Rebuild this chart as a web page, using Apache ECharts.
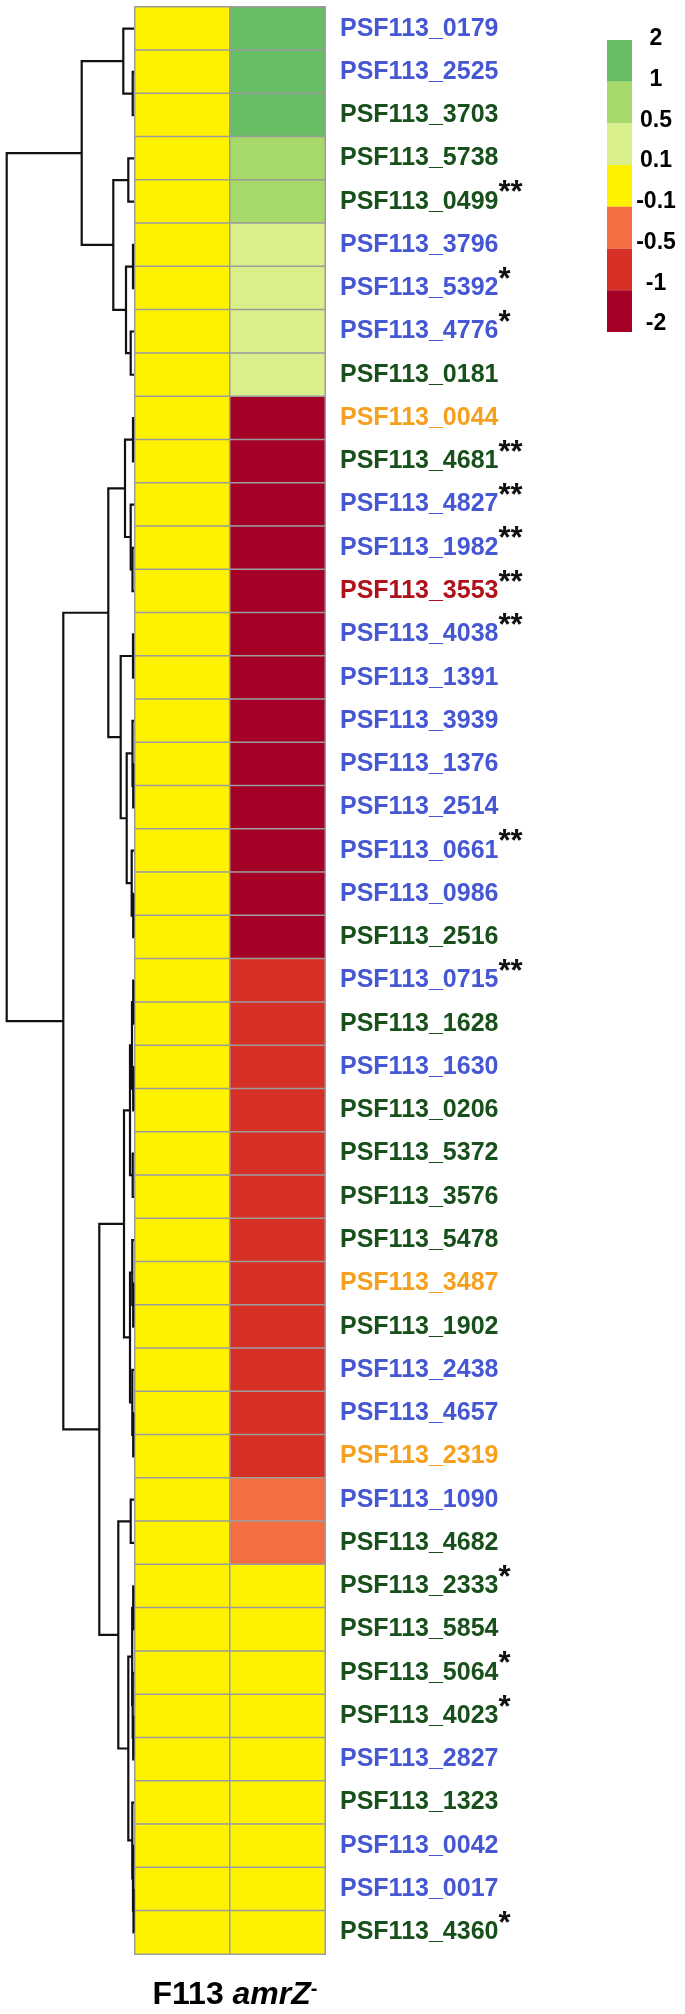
<!DOCTYPE html>
<html><head><meta charset="utf-8">
<script src="https://cdn.jsdelivr.net/npm/echarts@6/dist/echarts.min.js"></script>
<style>html,body{margin:0;padding:0;background:#fff}#c{width:685px;height:2014px}</style>
</head><body><div id="c"></div>
<script>
// ---------- data ----------
const genes = ['PSF113_0179','PSF113_2525','PSF113_3703','PSF113_5738','PSF113_0499','PSF113_3796','PSF113_5392','PSF113_4776','PSF113_0181','PSF113_0044',
  'PSF113_4681','PSF113_4827','PSF113_1982','PSF113_3553','PSF113_4038','PSF113_1391','PSF113_3939','PSF113_1376','PSF113_2514','PSF113_0661',
  'PSF113_0986','PSF113_2516','PSF113_0715','PSF113_1628','PSF113_1630','PSF113_0206','PSF113_5372','PSF113_3576','PSF113_5478','PSF113_3487',
  'PSF113_1902','PSF113_2438','PSF113_4657','PSF113_2319','PSF113_1090','PSF113_4682','PSF113_2333','PSF113_5854','PSF113_5064','PSF113_4023',
  'PSF113_2827','PSF113_1323','PSF113_0042','PSF113_0017','PSF113_4360'];
const geneGroup = ['b','b','g','g','g','b','b','b','g','o',
  'g','b','b','r','b','b','b','b','b','b',
  'b','g','b','g','b','g','g','g','g','o',
  'g','b','b','o','b','g','g','g','g','g',
  'b','g','b','b','g'];
const geneStars = ['','','','','**','','*','*','','',
  '**','**','**','**','**','','','','','**',
  '','','**','','','','','','','',
  '','','','','','','*','','*','*',
  '','','','','*'];
const columns = ['F113', 'amrZ'];
const wtValues = [0,0,0,0,0,0,0,0,0,0, 0,0,0,0,0,0,0,0,0,0, 0,0,0,0,0,0,0,0,0,0, 0,0,0,0,0,0,0,0,0,0, 0,0,0,0,0];
const mutValues = [1.5,1.5,1.5,0.75,0.75,0.3,0.3,0.3,0.3,-1.5,
  -1.5,-1.5,-1.5,-1.5,-1.5,-1.5,-1.5,-1.5,-1.5,-1.5,
  -1.5,-1.5,-0.75,-0.75,-0.75,-0.75,-0.75,-0.75,-0.75,-0.75,
  -0.75,-0.75,-0.75,-0.75,-0.3,-0.3,0,0,0,0,
  0,0,0,0,0];
const legendTicks = ['2','1','0.5','0.1','-0.1','-0.5','-1','-2'];
const colorBreaks = [-2,-1,-0.5,-0.1,0.1,0.5,1,2];
const colorSteps = ['#a50026','#d73027','#f46d43','#fff200','#d9ef8b','#a6d96a','#66bd63'];
// dendrogram linkage (leaves 0..44, internal nodes 45..)
const mergeA = [1,0,3,5,7,48,47,46, 9,12,11,53,14,17,16,20,19,59,57,56, 22,24,65,26,67,29,28,32,31,71,69, 34,36,39,38,77,43,42,41,80,76,75,64,52];
const mergeB = [2,45,4,6,8,49,50,51, 10,13,54,55,15,18,58,21,60,61,62,63, 23,25,66,27,68,30,70,33,72,73,74, 35,37,40,78,79,44,81,82,83,84,85,86,87];
const mergeH = [1.3,10.7,5.7,1.0,3.3,8,20.7,52.3, 1.0,1.5,3.3,9,1.0,0.8,1.5,0.8,2.3,7.3,13.3,25.7, 0.8,0.8,2,1.3,4,0.8,1.7,0.8,1.7,4,10, 3.3,0.8,0.8,1.3,1.8,0.5,1.0,1.7,5.7,15.7,34.7,70.7,127.3];

// ---------- build ----------
const groupColor = {b:'#4657d3', g:'#17501a', o:'#f5a01e', r:'#b0101a'};
const nLeaf = genes.length;
const nodeY = [], nodeH = [];
for (let i = 0; i < nLeaf; i++) { nodeY.push(i + 0.5); nodeH.push(0); }
const dendroData = [];
for (let k = 0; k < mergeA.length; k++) {
  const a = mergeA[k], b = mergeB[k];
  nodeY.push((nodeY[a] + nodeY[b]) / 2);
  nodeH.push(mergeH[k]);
  dendroData.push([mergeH[k], nodeY[a], nodeY[b], nodeH[a], nodeH[b]]);
}
const heatData = [];
for (let i = 0; i < nLeaf; i++) {
  heatData.push([0, i, wtValues[i]]);
  heatData.push([1, i, mutValues[i]]);
}
const pieces = [];
for (let i = 0; i < colorSteps.length; i++) {
  pieces.push({gte: colorBreaks[i], lt: colorBreaks[i+1], color: colorSteps[i]});
}
pieces[pieces.length-1].lte = colorBreaks[colorBreaks.length-1];
delete pieces[pieces.length-1].lt;

const rich = {};
Object.keys(groupColor).forEach(k => {
  rich[k] = {color: groupColor[k], fontSize: 25, fontWeight: 'bold', fontFamily: 'Liberation Sans, Arial, sans-serif', lineHeight: 30};
});
rich.s = {color: '#111', fontSize: 31, fontWeight: 'bold', fontFamily: 'Liberation Sans, Arial, sans-serif', lineHeight: 30, padding: [0,0,16,0]};

const HM_TOP = 7, HM_H = 1947;
const legendGraphics = legendTicks.map((t, i) => ({
  type: 'text', x: 656, y: 39 + i * 40.7,
  style: {text: t, fill: '#000', font: 'bold 23px "Liberation Sans", Arial, sans-serif', textAlign: 'center', textVerticalAlign: 'middle'}
}));

const chart = echarts.init(document.getElementById('c'), null, {renderer: 'canvas'});
chart.setOption({
  animation: false,
  backgroundColor: '#fff',
  grid: [
    {left: 135, top: HM_TOP, width: 190, height: HM_H},
    {left: 0, top: HM_TOP, width: 134, height: HM_H}
  ],
  xAxis: [
    {type: 'category', gridIndex: 0, data: columns, show: false},
    {type: 'value', gridIndex: 1, min: 0, max: 134, inverse: true, show: false}
  ],
  yAxis: [
    {type: 'category', gridIndex: 0, data: genes, inverse: true, position: 'right',
     axisLine: {show: false}, axisTick: {show: false}, splitLine: {show: false},
     axisLabel: {margin: 15, align: 'left', interval: 0,
       formatter: (v, i) => '{' + geneGroup[i] + '|' + v + '}' + (geneStars[i] ? '{s|' + geneStars[i] + '}' : ''),
       rich: rich}},
    {type: 'value', gridIndex: 1, min: 0, max: nLeaf, inverse: true, show: false}
  ],
  visualMap: {
    type: 'piecewise', seriesIndex: 0, pieces: pieces,
    left: 607, top: 40, itemWidth: 25, itemHeight: 41.7, itemGap: 0, itemSymbol: 'rect',
    showLabel: false, hoverLink: false, selectedMode: false, orient: 'vertical', padding: 0
  },
  series: [
    {type: 'heatmap', xAxisIndex: 0, yAxisIndex: 0, data: heatData,
     itemStyle: {borderColor: '#9c9c9c', borderWidth: 1.5},
     emphasis: {disabled: true}},
    {type: 'custom', xAxisIndex: 1, yAxisIndex: 1, data: dendroData, silent: true,
     renderItem: function (params, api) {
       const h = api.value(0), ya = api.value(1), yb = api.value(2), ha = api.value(3), hb = api.value(4);
       const p1 = api.coord([ha, ya]), p2 = api.coord([h, ya]), p3 = api.coord([h, yb]), p4 = api.coord([hb, yb]);
       return {type: 'polyline', shape: {points: [p1, p2, p3, p4]},
               style: {stroke: '#111', lineWidth: 2.2, fill: null}};
     }}
  ],
  graphic: legendGraphics.concat([{
    type: 'text', x: 235, y: 1995,
    style: {
      text: '{a|F113 }{b|amrZ}{c|-}', textAlign: 'center', textVerticalAlign: 'middle',
      rich: {
        a: {font: 'bold 32px "Liberation Sans", Arial, sans-serif', fill: '#000'},
        b: {font: 'italic bold 32px "Liberation Sans", Arial, sans-serif', fill: '#000'},
        c: {font: 'bold 20px "Liberation Sans", Arial, sans-serif', fill: '#000', verticalAlign: 'top'}
      }
    }
  }])
});
</script></body></html>
